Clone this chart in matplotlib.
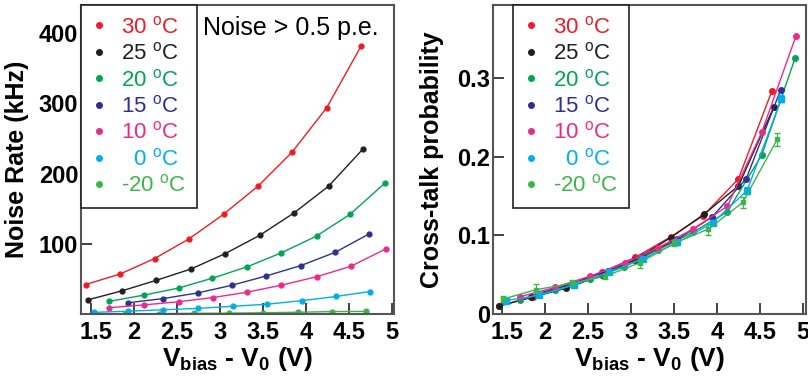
import matplotlib
matplotlib.use("Agg")
from matplotlib import pyplot as plt
from matplotlib.lines import Line2D
from matplotlib.transforms import ScaledTranslation

# series labels and colours (noise rate / cross-talk, per temperature)
labels = ["30 $^\\mathregular{o}$C", "25 $^\\mathregular{o}$C", "20 $^\\mathregular{o}$C",
          "15 $^\\mathregular{o}$C", "10 $^\\mathregular{o}$C", "  0 $^\\mathregular{o}$C",
          "-20 $^\\mathregular{o}$C"]
colors = ["#ed1c24", "#231f20", "#00a651", "#2e3192", "#ec2a8c", "#00aeef", "#3cb54a"]

# left panel: noise rate (kHz) vs overvoltage (V)
v30 = [1.44, 1.84, 2.24, 2.64, 3.04, 3.44, 3.84, 4.24, 4.64]
n30 = [42, 57, 79, 107, 142, 182, 231, 294, 382]
v25 = [1.46, 1.86, 2.26, 2.66, 3.06, 3.46, 3.86, 4.26, 4.66]
n25 = [20, 33, 48, 64, 86, 112, 144, 182, 235]
v20 = [1.71, 2.12, 2.52, 2.91, 3.31, 3.71, 4.12, 4.51, 4.92]
n20 = [18, 27, 37, 51, 67, 87, 111, 142, 187]
v15 = [1.93, 2.34, 2.74, 3.14, 3.53, 3.94, 4.34, 4.73]
n15 = [16, 22, 30, 41, 54, 69, 88, 114]
v10 = [1.71, 2.12, 2.52, 2.92, 3.31, 3.71, 4.12, 4.52, 4.93]
n10 = [9, 13, 17.5, 23.5, 31, 41, 53, 68, 93]
v0 = [1.53, 1.93, 2.34, 2.74, 3.15, 3.55, 3.95, 4.35, 4.74]
n0 = [2.3, 4, 6, 8, 11, 14, 19, 25, 32]
vm20 = [1.89, 2.29, 2.70, 3.10, 3.50, 3.90, 4.30, 4.70]
nm20 = [0.3, 0.5, 1.0, 1.2, 1.8, 2.5, 3.5, 3.7]

# right panel: cross-talk probability vs overvoltage (V)
x30 = [1.46, 1.86, 2.25, 2.66, 3.05, 3.46, 3.84, 4.25, 4.64]
c30 = [0.010, 0.022, 0.036, 0.053, 0.072, 0.098, 0.125, 0.172, 0.284]
x25 = [1.46, 1.84, 2.25, 2.66, 3.05, 3.46, 3.85, 4.25, 4.66]
c25 = [0.010, 0.021, 0.033, 0.049, 0.069, 0.097, 0.127, 0.163, 0.263]
x20 = [1.71, 2.12, 2.52, 2.92, 3.32, 3.72, 4.12, 4.52, 4.91]
c20 = [0.018, 0.030, 0.044, 0.060, 0.082, 0.104, 0.130, 0.202, 0.326]
x15 = [1.92, 2.33, 2.73, 3.14, 3.54, 3.94, 4.34, 4.74]
c15 = [0.026, 0.039, 0.055, 0.074, 0.095, 0.123, 0.172, 0.285]
x10 = [1.71, 2.12, 2.52, 2.93, 3.31, 3.72, 4.12, 4.52, 4.92]
c10 = [0.022, 0.034, 0.048, 0.065, 0.084, 0.108, 0.137, 0.231, 0.354]
x0 = [1.55, 1.93, 2.34, 2.74, 3.14, 3.54, 3.95, 4.35, 4.75]
c0 = [0.017, 0.024, 0.037, 0.053, 0.070, 0.091, 0.116, 0.157, 0.274]
e0 = [0.002, 0.002, 0.002, 0.002, 0.002, 0.003, 0.003, 0.004, 0.005]
xm20 = [1.51, 1.90, 2.31, 2.70, 3.10, 3.50, 3.90, 4.30, 4.70]
cm20 = [0.019, 0.031, 0.039, 0.048, 0.065, 0.090, 0.108, 0.142, 0.222]
em20 = [0.004, 0.007, 0.004, 0.003, 0.006, 0.004, 0.007, 0.007, 0.008]

xticks = [1.5, 2, 2.5, 3, 3.5, 4, 4.5, 5]
xticklabels = ["1.5", "2", "2.5", "3", "3.5", "4", "4.5", "5"]


def style_axes(ax):
    for s in ax.spines.values():
        s.set_color("#555555")
        s.set_linewidth(1.5)
    ax.tick_params(direction="in", length=8, width=1.3, color="#333333",
                   labelsize=17, pad=2)
    ax.tick_params(axis="x", pad=5)
    for lab in ax.get_xticklabels() + ax.get_yticklabels():
        lab.set_fontweight("bold")
    ax.set_xticks(xticks)
    ax.set_xticklabels(xticklabels, fontweight="bold")
    # the first label sits a little right of its tick in the original
    first = ax.get_xticklabels()[0]
    first.set_transform(first.get_transform() +
                        ScaledTranslation(0.05, 0, ax.figure.dpi_scale_trans))
    ax.set_xlabel("V$_\\mathregular{bias}$ - V$_\\mathregular{0}$ (V)",
                  fontsize=19, fontweight="bold", labelpad=1)


def add_legend(ax):
    handles = [Line2D([], [], ls="none", marker="o", ms=4, color=c) for c in colors]
    leg = ax.legend(handles, labels, loc="upper left", fontsize=16,
                    frameon=True, fancybox=False, framealpha=1,
                    edgecolor="#222222", borderaxespad=0.0, handlelength=0.6,
                    handletextpad=0.7, labelspacing=0.2, borderpad=0.5,
                    labelcolor=colors)
    leg.get_frame().set_linewidth(1.2)
    return leg


def main():
    plt.rcParams["font.family"] = ["Liberation Sans", "DejaVu Sans"]
    plt.rcParams["mathtext.default"] = "regular"

    fig = plt.figure(figsize=(8.08, 3.78), dpi=100)
    ax1 = fig.add_axes([0.1002, 0.1693, 0.3874, 0.8175])
    ax2 = fig.add_axes([0.6101, 0.1693, 0.3874, 0.8175])

    noise = [(v30, n30), (v25, n25), (v20, n20), (v15, n15),
             (v10, n10), (v0, n0), (vm20, nm20)]
    for (x, y), c in zip(noise, colors):
        ax1.plot(x, y, "-o", color=c, lw=1.0, ms=3.5)
    ax1.set_xlim(1.384, 5.02)
    ax1.set_ylim(0, 440)
    ax1.set_yticks([100, 200, 300, 400])
    style_axes(ax1)
    ax1.set_ylabel("Noise Rate (kHz)", fontsize=18, fontweight="bold")
    ax1.yaxis.set_label_coords(-0.165, 0.5)
    ax1.text(0.39, 0.926, "Noise > 0.5 p.e.", transform=ax1.transAxes,
             fontsize=18, va="center", ha="left")
    add_legend(ax1)

    xtalk = [(x30, c30), (x25, c25), (x20, c20), (x15, c15), (x10, c10)]
    for (x, y), c in zip(xtalk, colors[:5]):
        ax2.plot(x, y, "-o", color=c, lw=1.0, ms=4)
    ax2.errorbar(x0, c0, yerr=e0, fmt="-s", color=colors[5], lw=1.0, ms=4,
                 capsize=2.5, elinewidth=0.8)
    ax2.errorbar(xm20, cm20, yerr=em20, fmt="-s", color=colors[6], lw=1.0,
                 ms=3.5, capsize=2.5, elinewidth=0.8)
    ax2.set_xlim(1.395, 5.035)
    ax2.set_ylim(0, 0.393)
    ax2.set_yticks([0, 0.1, 0.2, 0.3])
    ax2.set_yticklabels(["0", "0.1", "0.2", "0.3"])
    style_axes(ax2)
    ax2.set_ylabel("Cross-talk probability", fontsize=18, fontweight="bold")
    ax2.yaxis.set_label_coords(-0.155, 0.5)
    leg = add_legend(ax2)
    leg.set_bbox_to_anchor((0.064, 1.0), transform=ax2.transAxes)

    fig.savefig("out.png", dpi=100)


if __name__ == "__main__":
    main()
